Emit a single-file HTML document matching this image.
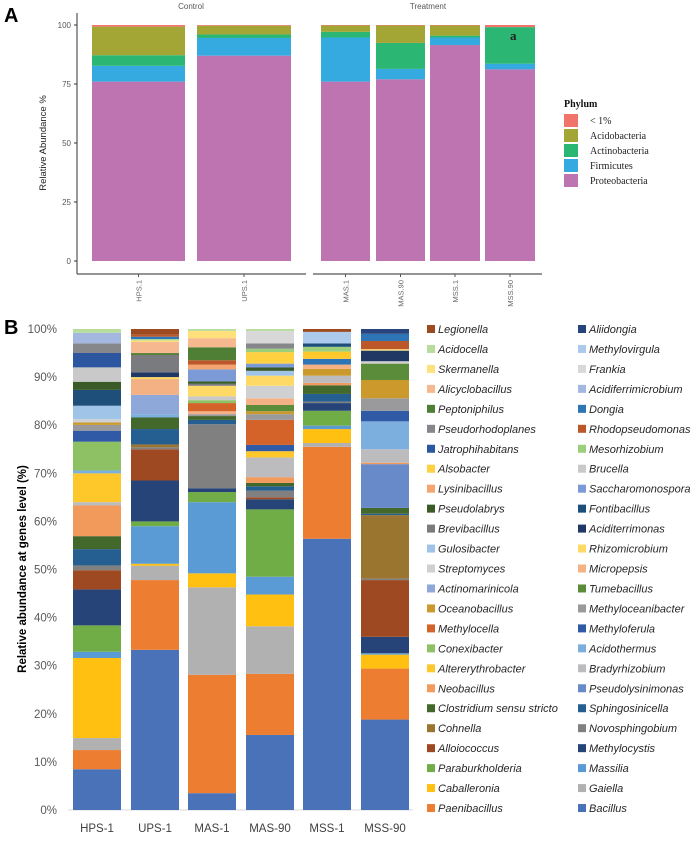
<!DOCTYPE html>
<html><head><meta charset="utf-8">
<style>
body{margin:0;background:#fff;width:697px;height:843px;overflow:hidden;font-family:"Liberation Sans",sans-serif}
svg{position:absolute;left:0;top:0}
</style></head>
<body>
<svg id="chart" width="697" height="843"></svg>
<script>
const NS="http://www.w3.org/2000/svg";
// ---------- Panel A data ----------
const phylaA=["Proteobacteria","Firmicutes","Actinobacteria","Acidobacteria","< 1%"];
const samplesA=["HPS.1","UPS.1","MAS.1","MAS.90","MSS.1","MSS.90"];
const proteoA=[76,87,76,77,91.5,81.2];
const firmA=[6.7,7.5,18.7,4.4,3.2,2.4];
const actinoA=[4.5,1.5,2.4,11,0.8,15.5];
const acidoA=[12.1,3.7,2.7,7.4,4.3,0];
const lt1A=[0.7,0.3,0.2,0.2,0.2,0.9];
// ---------- Panel B data ----------
const samplesB=["HPS-1","UPS-1","MAS-1","MAS-90","MSS-1","MSS-90"];
const yTicksB=[0,10,20,30,40,50,60,70,80,90,100];
const legendLeft=["Legionella","Acidocella","Skermanella","Alicyclobacillus","Peptoniphilus","Pseudorhodoplanes","Jatrophihabitans","Alsobacter","Lysinibacillus","Pseudolabrys","Brevibacillus","Gulosibacter","Streptomyces","Actinomarinicola","Oceanobacillus","Methylocella","Conexibacter","Altererythrobacter","Neobacillus","Clostridium sensu stricto","Cohnella","Alloiococcus","Paraburkholderia","Caballeronia","Paenibacillus"];
const legendRight=["Aliidongia","Methylovirgula","Frankia","Acidiferrimicrobium","Dongia","Rhodopseudomonas","Mesorhizobium","Brucella","Saccharomonospora","Fontibacillus","Aciditerrimonas","Rhizomicrobium","Micropepsis","Tumebacillus","Methyloceanibacter","Methyloferula","Acidothermus","Bradyrhizobium","Pseudolysinimonas","Sphingosinicella","Novosphingobium","Methylocystis","Massilia","Gaiella","Bacillus"];
const hps1=[["Bacillus",8.5],["Paenibacillus",4],["Gaiella",2.5],["Caballeronia",16.7],["Massilia",1.3],["Paraburkholderia",5.5],["Methylocystis",7.5],["Alloiococcus",4],["Novosphingobium",1],["Sphingosinicella",3.4],["Clostridium sensu stricto",2.7],["Neobacillus",6.4],["Bradyrhizobium",0.7],["Altererythrobacter",6],["Acidothermus",0.6],["Conexibacter",6],["Methyloferula",2.3],["Methyloceanibacter",1.2],["Oceanobacillus",0.5],["Streptomyces",0.7],["Gulosibacter",2.8],["Fontibacillus",3.3],["Pseudolabrys",1.7],["Brucella",3],["Jatrophihabitans",3],["Pseudorhodoplanes",2],["Acidiferrimicrobium",2.2],["Acidocella",0.8]];
const ups1=[["Bacillus",33.3],["Paenibacillus",14.5],["Gaiella",3],["Caballeronia",0.4],["Massilia",7.8],["Paraburkholderia",1],["Methylocystis",8.5],["Alloiococcus",6.5],["Novosphingobium",0.4],["Cohnella",0.6],["Sphingosinicella",3.2],["Clostridium sensu stricto",2.4],["Acidothermus",0.7],["Actinomarinicola",4],["Micropepsis",3.3],["Rhizomicrobium",0.4],["Aciditerrimonas",1],["Brevibacillus",3.6],["Peptoniphilus",0.4],["Alicyclobacillus",2.3],["Skermanella",0.3],["Acidocella",0.3],["Dongia",0.5],["Rhodopseudomonas",0.4],["Legionella",1.2]];
const mas1=[["Bacillus",3.5],["Paenibacillus",24.6],["Gaiella",18.2],["Caballeronia",2.9],["Massilia",14.8],["Paraburkholderia",2.1],["Methylocystis",0.8],["Novosphingobium",13.3],["Sphingosinicella",0.9],["Clostridium sensu stricto",0.8],["Methyloceanibacter",0.4],["Micropepsis",0.6],["Methylocella",1.7],["Conexibacter",0.6],["Brucella",0.8],["Rhizomicrobium",2.2],["Brevibacillus",0.4],["Pseudolabrys",0.5],["Saccharomonospora",2.5],["Lysinibacillus",1],["Rhodopseudomonas",0.9],["Peptoniphilus",2.7],["Alicyclobacillus",1.9],["Skermanella",1.5],["Acidocella",0.4]];
const mas90=[["Bacillus",15.6],["Paenibacillus",12.7],["Gaiella",9.9],["Caballeronia",6.6],["Massilia",3.7],["Paraburkholderia",14],["Methylocystis",2.1],["Alloiococcus",0.4],["Novosphingobium",1.4],["Sphingosinicella",0.9],["Clostridium sensu stricto",0.7],["Neobacillus",1.2],["Bradyrhizobium",4.1],["Altererythrobacter",1.3],["Methyloferula",1.3],["Methylocella",5.2],["Methyloceanibacter",1.2],["Oceanobacillus",0.6],["Tumebacillus",1.3],["Micropepsis",1.4],["Streptomyces",2.6],["Rhizomicrobium",2.1],["Gulosibacter",1],["Pseudolabrys",0.7],["Saccharomonospora",0.8],["Alsobacter",2.4],["Mesorhizobium",0.7],["Pseudorhodoplanes",1.1],["Frankia",2.6],["Acidocella",0.4]];
const mss1=[["Bacillus",56.4],["Paenibacillus",19.1],["Gaiella",0.8],["Caballeronia",2.9],["Massilia",0.7],["Paraburkholderia",3.1],["Methylocystis",1.6],["Novosphingobium",0.3],["Sphingosinicella",1.6],["Clostridium sensu stricto",1.8],["Neobacillus",0.5],["Bradyrhizobium",1.5],["Oceanobacillus",1.4],["Micropepsis",0.9],["Dongia",1.2],["Altererythrobacter",1.5],["Mesorhizobium",1],["Fontibacillus",0.7],["Methylovirgula",2.4],["Legionella",0.6]];
const mss90=[["Bacillus",18.8],["Paenibacillus",10.6],["Caballeronia",2.9],["Massilia",0.3],["Methylocystis",3.4],["Alloiococcus",11.8],["Novosphingobium",0.3],["Cohnella",13.2],["Sphingosinicella",0.3],["Clostridium sensu stricto",1.2],["Pseudolysinimonas",9.1],["Neobacillus",0.3],["Bradyrhizobium",2.8],["Acidothermus",5.8],["Methyloferula",2.2],["Methyloceanibacter",2.6],["Oceanobacillus",3.8],["Tumebacillus",3.4],["Streptomyces",0.5],["Aciditerrimonas",2.2],["Skermanella",0.3],["Rhodopseudomonas",1.7],["Dongia",1.5],["Aliidongia",1]];

const colorsA={"Proteobacteria":"#bd74b0","Firmicutes":"#35aae0","Actinobacteria":"#2bb673","Acidobacteria":"#a3a535","< 1%":"#f0746a"};
const colorsB={"Legionella":"#9e4a20","Acidocella":"#b8dc9c","Skermanella":"#ffe07a","Alicyclobacillus":"#f6b98f","Peptoniphilus":"#4f7f34","Pseudorhodoplanes":"#86878a","Jatrophihabitans":"#2c56a0","Alsobacter":"#ffd040","Lysinibacillus":"#f4a46e","Pseudolabrys":"#3a5a27","Brevibacillus":"#7a7b7e","Gulosibacter":"#9fc4e8","Streptomyces":"#cfd0d2","Actinomarinicola":"#8ea8da","Oceanobacillus":"#cc9a2c","Methylocella":"#d4632a","Conexibacter":"#8dc163","Altererythrobacter":"#ffc82a","Neobacillus":"#f29a5c","Clostridium sensu stricto":"#43682b","Cohnella":"#997530","Alloiococcus":"#9e4921","Paraburkholderia":"#70ad47","Caballeronia":"#ffc012","Paenibacillus":"#ed7d31","Aliidongia":"#27457c","Methylovirgula":"#accbec","Frankia":"#d8d8d8","Acidiferrimicrobium":"#a3b7e0","Dongia":"#2e75b6","Rhodopseudomonas":"#bd5628","Mesorhizobium":"#9ccf7c","Brucella":"#c9c9c9","Saccharomonospora":"#7c9ad6","Fontibacillus":"#1e4f7a","Aciditerrimonas":"#203864","Rhizomicrobium":"#ffd966","Micropepsis":"#f4b183","Tumebacillus":"#5b8c3a","Methyloceanibacter":"#9a9a9c","Methyloferula":"#3059a6","Acidothermus":"#7cafdd","Bradyrhizobium":"#bcbcbe","Pseudolysinimonas":"#698ac8","Sphingosinicella":"#255e91","Novosphingobium":"#808080","Methylocystis":"#264478","Massilia":"#5b9bd5","Gaiella":"#b1b1b1","Bacillus":"#4a72b8"};

const svg=document.getElementById('chart');
function mk(tag,attrs,parent){const e=document.createElementNS(NS,tag);for(const k in attrs)e.setAttribute(k,attrs[k]);(parent||svg).appendChild(e);return e;}
function txt(s,attrs,parent){const e=mk('text',attrs,parent);e.textContent=s;return e;}

// ===== Panel A =====
const gA=mk('g',{});


const lblA=txt('A',{x:4,y:22,'font-size':20,'font-weight':'bold',fill:'#000'},gA);


const A_y0=261,A_y100=25;
function yA(v){return A_y0-(A_y0-A_y100)*v/100;}
const barXA=[92,197,321,376,430,485];
const barWA=[93,94,49,49,50,50];
const yAxA=mk('line',{x1:77,y1:13,x2:77,y2:274,stroke:'#333','stroke-width':1},gA);


[0,25,50,75,100].forEach(t=>{
  const tl=txt(String(t),{x:71,y:yA(t)+3,'font-size':8,fill:'#555','text-anchor':'end'},gA);
  
  
  mk('line',{x1:74,y1:yA(t),x2:77,y2:yA(t),stroke:'#333'},gA);
});
const ytA=txt('Relative Abundance %',{transform:'translate(46,143) rotate(-90)','font-size':9.5,fill:'#222','text-anchor':'middle'},gA);


const xa1=mk('line',{x1:77,y1:274,x2:306,y2:274,stroke:'#555','stroke-width':1.3},gA);


const xa2=mk('line',{x1:313,y1:274,x2:542,y2:274,stroke:'#555','stroke-width':1.3},gA);


const fc=txt('Control',{x:191,y:9,'font-size':8,fill:'#555','text-anchor':'middle'},gA);


const ft=txt('Treatment',{x:428,y:9,'font-size':8,fill:'#555','text-anchor':'middle'},gA);


const seriesA=[proteoA,firmA,actinoA,acidoA,lt1A];
samplesA.forEach((s,i)=>{
  let cum=0;
  seriesA.forEach((arr,k)=>{
    const v=arr[i];if(v<=0)return;
    const r=mk('rect',{x:barXA[i],y:yA(cum+v),width:barWA[i],height:yA(cum)-yA(cum+v),fill:colorsA[phylaA[k]]},gA);
    
    
    cum+=v;
  });
  const cx=barXA[i]+barWA[i]/2;
  mk('line',{x1:cx,y1:274,x2:cx,y2:277,stroke:'#555'},gA);
  const xl=txt(s,{transform:'translate('+(cx+3)+',280) rotate(-90)','font-size':7.5,fill:'#666','text-anchor':'end'},gA);
  
  
});
const aMark=txt('a',{x:510,y:40,'font-size':13,'font-weight':'bold','font-family':'Liberation Serif',fill:'#222'},gA);


const legA=mk('g',{},gA);


const lt=txt('Phylum',{x:564,y:107,'font-size':10,'font-weight':'bold','font-family':'Liberation Serif',fill:'#111'},legA);


["< 1%","Acidobacteria","Actinobacteria","Firmicutes","Proteobacteria"].forEach((p,j)=>{
  const y=114+j*15;
  const sw=mk('rect',{x:564,y:y,width:14,height:13,fill:colorsA[p]},legA);
  
  
  const t=txt(p,{x:590,y:y+10,'font-size':10,'font-family':'Liberation Serif',fill:'#222'},legA);
  
  
});

// ===== Panel B =====
const gB=mk('g',{});


const lblB=txt('B',{x:4,y:334,'font-size':20,'font-weight':'bold',fill:'#000'},gB);


const B_y0=810,B_y100=329;
function yB(v){return B_y0-(B_y0-B_y100)*v/100;}
const barXB=[73,131,188,246,303,361];
const barWB=48;
yTicksB.forEach(t=>{
  const tl=txt(t+'%',{x:57,y:yB(t)+4,'font-size':11.5,fill:'#595959','text-anchor':'end'},gB);
  
  
});
const xaB=mk('line',{x1:68,y1:810,x2:413,y2:810,stroke:'#d9d9d9','stroke-width':1},gB);


const ytB=txt('Relative abundance at genes level (%)',{transform:'translate(26,569) rotate(-90)','font-size':11.5,'font-weight':'bold',fill:'#000','text-anchor':'middle'},gB);


const dataB=[hps1,ups1,mas1,mas90,mss1,mss90];
samplesB.forEach((s,i)=>{
  const segs=dataB[i];
  const total=segs.reduce((a,b)=>a+b[1],0);
  let cum=0;
  segs.forEach(([g,v])=>{
    const p=v/total*100;
    const r=mk('rect',{x:barXB[i],y:yB(cum+p),width:barWB,height:Math.max(0,yB(cum)-yB(cum+p)),fill:colorsB[g]||'#999'},gB);
    
    
    cum+=p;
  });
  const xl=txt(s,{x:barXB[i]+barWB/2,y:832,'font-size':11.5,fill:'#404040','text-anchor':'middle'},gB);
  
  
});
const legB=mk('g',{},gB);


function legCol(list,sx){
  list.forEach((g,j)=>{
    const y=329+j*19.96;
    const sw=mk('rect',{x:sx,y:y-4,width:8,height:8,fill:colorsB[g]},legB);
    
    
    const t=txt(g,{x:sx+11,y:y+4,'font-size':11,'font-style':'italic',fill:'#262626'},legB);
    
    
  });
}
legCol(legendLeft,427);
legCol(legendRight,578);
</script>
</body></html>
